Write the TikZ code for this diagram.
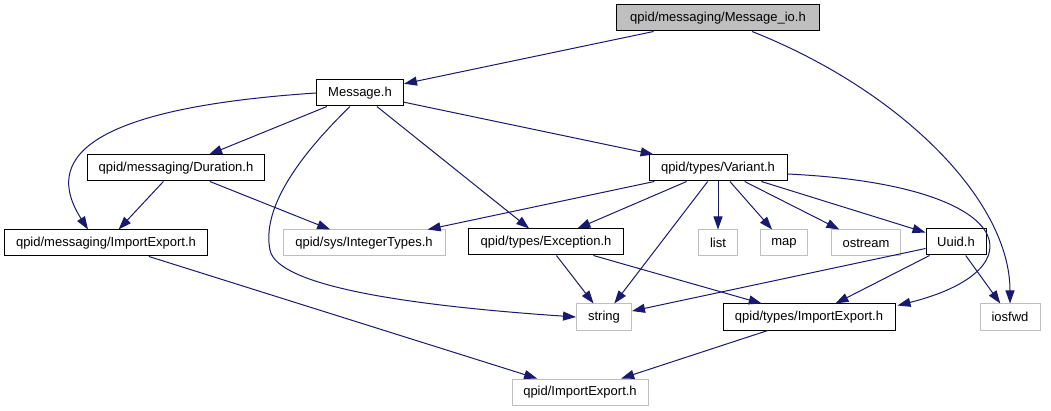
\documentclass[tikz,border=0pt]{standalone}
\usepackage{fontspec}
\setmainfont{Liberation Sans}
\usepackage{xcolor}
\usepackage{tikz}
\usetikzlibrary{arrows.meta, calc}

\definecolor{edgeblue}{HTML}{191970}

\begin{document}
\begin{tikzpicture}[x=1pt, y=-1pt,
  hdr/.style={draw=black, line width=1pt, minimum height=26pt, inner sep=0pt,
    font=\fontsize{13}{15}\selectfont},
  syshdr/.style={hdr, draw=gray!50},
  curhdr/.style={hdr, fill=gray!50},
  dep/.style={-{Triangle[length=13pt,width=9pt]}, draw=edgeblue, line width=1pt}]
  % 画布
  \useasboundingbox (0,0) rectangle (1051,411);
  % 当前文件
  \node[curhdr, minimum width=203pt] (msgio) at (718,18) {qpid/messaging/Message\_io.h};
  % 第一层
  \node[hdr, minimum width=87pt] (msg) at (360,93) {Message.h};
  % 第二层
  \node[hdr, minimum width=177pt] (dur) at (176,168) {qpid/messaging/Duration.h};
  \node[hdr, minimum width=138pt] (variant) at (718,168) {qpid/types/Variant.h};
  % 第三层
  \node[hdr, minimum width=203pt] (msgie) at (106,243) {qpid/messaging/ImportExport.h};
  \node[syshdr, minimum width=162pt] (inttypes) at (364,243) {qpid/sys/IntegerTypes.h};
  \node[hdr, minimum width=155pt] (except) at (546,242) {qpid/types/Exception.h};
  \node[syshdr, minimum width=39pt] (list) at (718,243) {list};
  \node[syshdr, minimum width=47pt] (map) at (784,243) {map};
  \node[syshdr, minimum width=69pt] (ostream) at (866,243) {ostream};
  \node[hdr, minimum width=60pt] (uuid) at (956,242) {Uuid.h};
  % 第四层
  \node[syshdr, minimum width=55pt] (string) at (604,317) {string};
  \node[hdr, minimum width=172pt] (typesie) at (809,317) {qpid/types/ImportExport.h};
  \node[syshdr, minimum width=60pt] (iosfwd) at (1010,317) {iosfwd};
  % 底层
  \node[syshdr, minimum width=136pt] (qpidie) at (580,392) {qpid/ImportExport.h};
  % 依赖关系
  \draw[dep] (msgio) -- (msg);
  \draw[dep] ($(msgio.south)+(34,0)$) .. controls (900,90) and (1010,200) .. (iosfwd.north);
  \draw[dep] (msg.west) .. controls (60,110) and (50,170) .. ($(msgie.north)+(-18,0)$);
  \draw[dep] (msg) -- (dur);
  \draw[dep] ($(msg.south)+(-10,0)$) .. controls (295,160) and (262,210) .. (270,250)
    .. controls (277,285) and (400,305) .. (string.west);
  \draw[dep] (msg) -- (except);
  \draw[dep] (msg) -- (variant);
  \draw[dep] (dur) -- (msgie);
  \draw[dep] (dur) -- (inttypes);
  \draw[dep] (variant) -- (inttypes);
  \draw[dep] (variant) -- (except);
  \draw[dep] (variant) -- (string);
  \draw[dep] (variant) -- (list);
  \draw[dep] (variant) -- (map);
  \draw[dep] (variant) -- (ostream);
  \draw[dep] (variant) -- (uuid);
  \draw[dep] ($(variant.east)+(0,6)$) .. controls (1020,185) and (1040,270) .. ($(typesie.north east)+(2,2)$);
  \draw[dep] (except) -- (string);
  \draw[dep] (except) -- (typesie);
  \draw[dep] (uuid) -- (string);
  \draw[dep] (uuid) -- (typesie);
  \draw[dep] (uuid) -- (iosfwd);
  \draw[dep] (msgie) -- (qpidie);
  \draw[dep] (typesie) -- (qpidie);
\end{tikzpicture}
\end{document}
